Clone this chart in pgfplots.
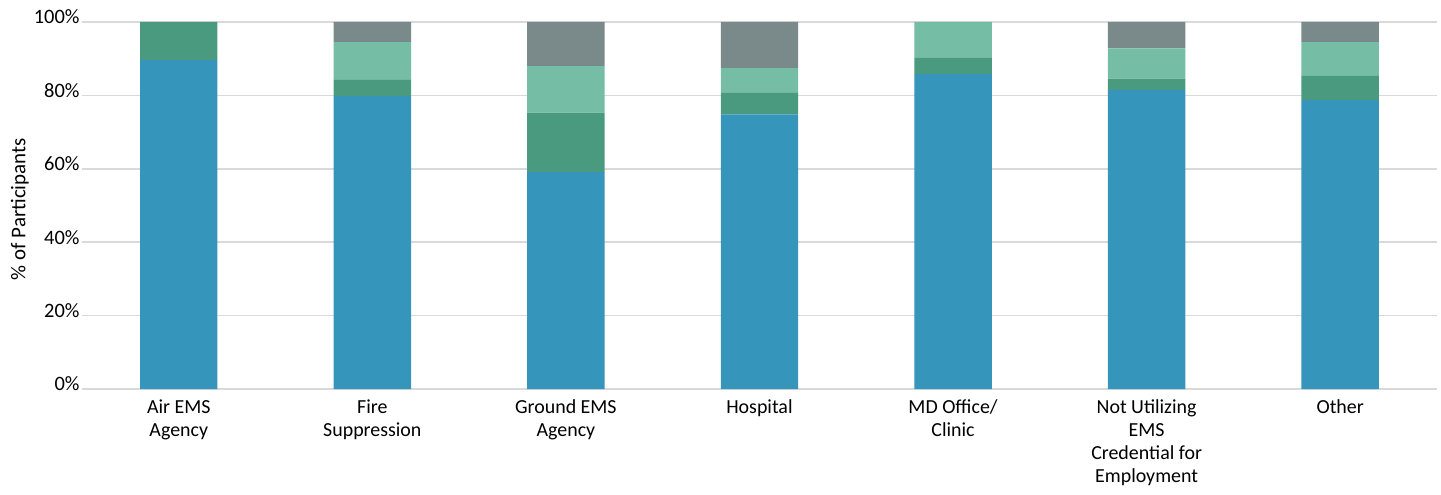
\documentclass[border=0pt]{standalone}
\usepackage{fontspec}
\setmainfont{Carlito}
\usepackage{pgfplots}
\usepackage{pgfplotstable}
\pgfplotsset{compat=1.18}
\definecolor{cblue}{HTML}{3595BB}
\definecolor{cgreen}{HTML}{4A9A7F}
\definecolor{clgreen}{HTML}{76BDA5}
\definecolor{cgray}{HTML}{7A8A8A}
\definecolor{gridc}{HTML}{D9D9D9}
\pgfplotstableread{
x blue green lgreen gray
0 89.6 10.4 0 0
1 79.8 4.4 10.3 5.5
2 59.1 16.2 12.7 12.0
3 74.8 6.0 6.6 12.6
4 85.8 4.4 9.8 0
5 81.5 3.1 8.2 7.2
6 78.8 6.5 9.2 5.5
}\datatable
\begin{document}
\begin{tikzpicture}
\begin{axis}[
  at={(0,0)}, anchor=south west,
  scale only axis,
  width=1355bp, height=367bp,
  ybar stacked,
  bar width=0.4,
  xmin=-0.5, xmax=6.5,
  ymin=0, ymax=100,
  axis line style={draw=none},
  tick style={draw=none},
  ymajorgrids,
  grid style={gridc, line width=1.5bp},
  major tick length=0pt,
  xtick=data,
  xticklabels={{Air EMS\\Agency},{Fire\\Suppression},{Ground EMS\\Agency},{Hospital},{MD Office/\\Clinic},{Not Utilizing\\EMS\\Credential for\\Employment},{Other}},
  xticklabel style={align=center, font=\fontsize{20}{23}\selectfont, anchor=north, yshift=-7bp},
  ytick={0,20,40,60,80,100},
  yticklabels={0\%,20\%,40\%,60\%,80\%,100\%},
  yticklabel style={font=\fontsize{20.5}{22}\selectfont, yshift=5bp, xshift=1bp},
  ylabel={\% of Participants},
  every axis y label/.style={at={(axis description cs:-0.0458,0.49)}, rotate=90, anchor=center, font=\fontsize{21}{23}\selectfont},
  clip=false,
]
\addplot[fill=cblue, draw=none] table[x=x, y=blue] {\datatable};
\addplot[fill=cgreen, draw=none] table[x=x, y=green] {\datatable};
\addplot[fill=clgreen, draw=none] table[x=x, y=lgreen] {\datatable};
\addplot[fill=cgray, draw=none] table[x=x, y=gray] {\datatable};
\end{axis}
\pgfresetboundingbox
\path[use as bounding box] (-82bp,-106bp) rectangle (1359bp,389bp);
\end{tikzpicture}
\end{document}
